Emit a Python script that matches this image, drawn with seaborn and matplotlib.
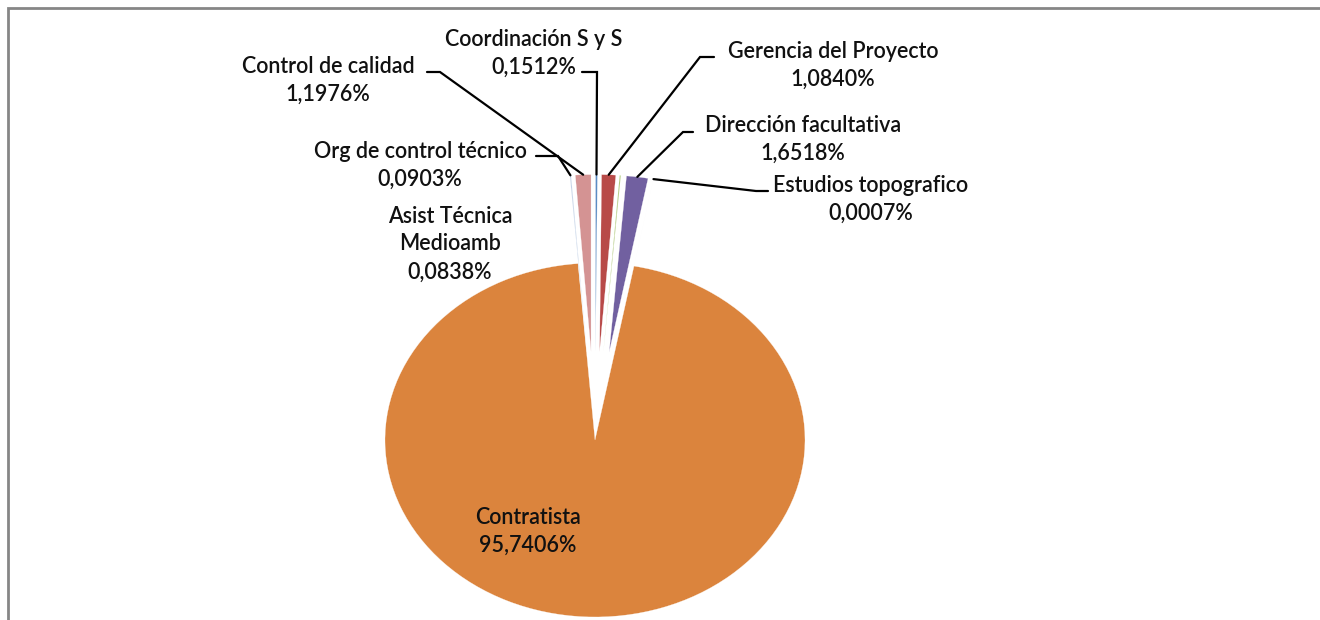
import matplotlib
matplotlib.use('Agg')  # headless
import numpy as np
import matplotlib.pyplot as plt
import seaborn as sns
from matplotlib.patches import Rectangle

# slice data, clockwise from 12 o'clock (Excel order)
categories = ["Coordinación S y S", "Gerencia del Proyecto", "Asist Técnica\nMedioamb",
              "Dirección facultativa", "Estudios topografico", "Contratista",
              "Org de control técnico", "Control de calidad"]
shares = [0.1512, 1.0840, 0.0838, 1.6518, 0.0007, 95.7406, 0.0903, 1.1976]
colors = ["#5B8CC4", "#B84A48", "#9BBB59", "#7160A0", "#4BACC6", "#DB843D",
          "#BACBE3", "#D49393"]
explode = [0.5, 0.5, 0.5, 0.5, 0.5, 0.0, 0.5, 0.5]

# label layout in pixels: text centre, leader start, leader elbow (None = no leader)
label_pos = [(534, 53), (833, 65), (450, 244), (803, 139), (871, 199), (528, 531),
             (420, 165), (328, 80)]
leader_pts = [((582, 72), (597, 72)), ((714, 57), (700, 57)), None,
              ((693, 132), (683, 132)), ((768, 191), (756, 191)), None,
              ((536, 156), (558, 156)), ((427, 72), (440, 72))]

W, H = 1320, 620
CX, CY, RX, RY = 595, 440, 210, 177   # pie centre / radii in px


def px2d(px, py):
    return (px - CX) / RX, (CY - py) / RY


sns.set_theme(style="white")
plt.rcParams['font.family'] = ['Lato', 'DejaVu Sans']

fig = plt.figure(figsize=(W / 100, H / 100), dpi=100)
fig.patch.set_facecolor("white")
ax = fig.add_axes([0, 0, 1, 1])

wedges, _ = ax.pie(shares, colors=colors, explode=explode, startangle=90,
                   counterclock=False, radius=1.0,
                   wedgeprops=dict(edgecolor="white", linewidth=0.2))
ax.set_aspect('auto')
x0, y0 = px2d(0, H)
x1, y1 = px2d(W, 0)
ax.set_xlim(x0, x1)
ax.set_ylim(y0, y1)
ax.axis('off')

for i, (name, val) in enumerate(zip(categories, shares)):
    pct = f"{val:.4f}".replace(".", ",") + "%"
    tx, ty = px2d(*label_pos[i])
    ax.text(tx, ty, f"{name}\n{pct}", ha="center", va="center",
            multialignment="center", fontsize=15.5, fontweight="semibold",
            linespacing=1.4, color="#111111")
    if leader_pts[i] is not None:
        w = wedges[i]
        mid = np.deg2rad((w.theta1 + w.theta2) / 2)
        ex = w.center[0] + w.r * np.cos(mid)
        ey = w.center[1] + w.r * np.sin(mid)
        s = px2d(*leader_pts[i][0])
        e = px2d(*leader_pts[i][1])
        ax.plot([s[0], e[0], ex], [s[1], e[1], ey], color="black", lw=1.6,
                solid_joinstyle="miter")

# chart frame (clipped at right and bottom like the source)
fig.patches.append(Rectangle((8 / W, -0.1), 1.2, 1 - 8 / H + 0.1,
                             transform=fig.transFigure, fill=False,
                             edgecolor="#868686", linewidth=2.0))

fig.savefig("out.png", dpi=100)
